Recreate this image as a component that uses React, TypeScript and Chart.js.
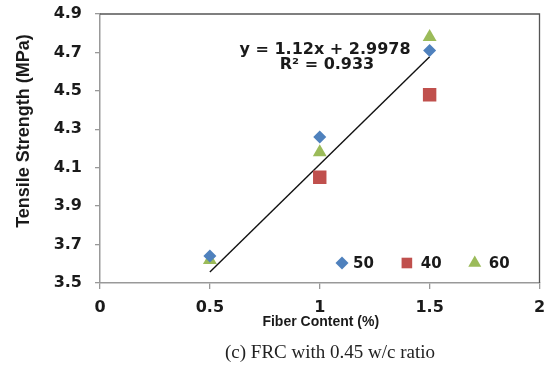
import React, { useEffect, useRef } from "react";
import { Chart, registerables } from "chart.js";
import { drawPoint } from "chart.js/helpers";

Chart.register(...registerables);

// ---- data ----
const seriesNames = ["50", "40", "60"];
const x50 = [0.5, 1.0, 1.5];
const y50 = [3.64, 4.26, 4.71];
const x40 = [1.0, 1.5];
const y40 = [4.05, 4.48];
const x60 = [0.5, 1.0, 1.5];
const y60 = [3.62, 4.18, 4.78];
const trendSlope = 1.12;
const trendIntercept = 2.9978;
const trendR2 = 0.933;
const trendRange = [0.5, 1.5];
const xTickValues = [0, 0.5, 1, 1.5, 2];
const yTickValues = [3.5, 3.7, 3.9, 4.1, 4.3, 4.5, 4.7, 4.9];
const xTitle = "Fiber Content (%)";
const yTitle = "Tensile Strength (MPa)";
const caption = "(c) FRC with 0.45 w/c ratio";

const BOLD = "'DejaVu Sans', sans-serif";
const ARIAL = "'Liberation Sans', Arial, sans-serif";
const TEXT = "#1a1a1a";

const pts = (xs: number[], ys: number[]) => xs.map((x, i) => ({ x, y: ys[i] }));

const overlay = {
  id: "overlay",
  beforeDatasetsDraw(chart: any) {
    const { ctx, chartArea: a } = chart;
    ctx.save();
    ctx.strokeStyle = "#555";
    ctx.lineWidth = 1.3;
    ctx.beginPath();
    ctx.moveTo(a.left, a.top);
    ctx.lineTo(a.right, a.top);
    ctx.lineTo(a.right, a.bottom);
    ctx.stroke();
    ctx.restore();
  },
  afterDraw(chart: any) {
    const { ctx, chartArea: a } = chart;
    ctx.save();
    ctx.fillStyle = TEXT;
    ctx.textAlign = "center";
    ctx.textBaseline = "middle";

    // trendline equation
    ctx.font = `bold 16px ${BOLD}`;
    const sign = trendIntercept >= 0 ? "+" : "-";
    ctx.fillText(`y = ${trendSlope}x ${sign} ${Math.abs(trendIntercept)}`, a.left + 225, a.top + 36);
    ctx.fillText(`R² = ${trendR2}`, a.left + 227, a.top + 51);

    // legend (inside plot area, bottom right)
    ctx.font = `bold 15px ${BOLD}`;
    ctx.textAlign = "left";
    let x = a.left + 235;
    const ly = a.bottom - 20;
    const ds = chart.data.datasets;
    const legendRadius = [6.5, 7.5, 7.5];
    const markerGap = [11, 14, 14];
    for (let i = 0; i < seriesNames.length; i++) {
      const d = ds[i];
      const mx = x + 7;
      ctx.fillStyle = d.backgroundColor;
      drawPoint(ctx, { pointStyle: d.pointStyle, radius: legendRadius[i], rotation: 0, borderWidth: 0 }, mx, ly);
      ctx.fillStyle = TEXT;
      const tx = mx + markerGap[i];
      ctx.fillText(seriesNames[i], tx, ly + 1);
      x = tx + ctx.measureText(seriesNames[i]).width + 26;
    }

    // axis titles
    ctx.textAlign = "center";
    ctx.font = `bold 14px ${ARIAL}`;
    ctx.fillText(xTitle, (a.left + a.right) / 2 + 1, a.bottom + 39);

    ctx.save();
    ctx.translate(24, a.top + 117);
    ctx.rotate(-Math.PI / 2);
    ctx.font = `bold 18px ${ARIAL}`;
    ctx.fillText(yTitle, 0, 0);
    ctx.restore();

    // caption
    ctx.fillStyle = "#222";
    ctx.font = "19px 'Liberation Serif', 'Times New Roman', serif";
    ctx.fillText(caption, a.left + 230, a.bottom + 70);
    ctx.restore();
  },
};

export default function App() {
  const ref = useRef<HTMLCanvasElement | null>(null);

  useEffect(() => {
    if (!ref.current) return;
    const chart = new Chart(ref.current, {
      type: "scatter",
      data: {
        datasets: [
          {
            label: seriesNames[0],
            data: pts(x50, y50),
            backgroundColor: "#4F81BD",
            borderColor: "#4F81BD",
            pointStyle: "rectRot",
            pointRadius: 6.5,
            borderWidth: 0,
          },
          {
            label: seriesNames[1],
            data: pts(x40, y40),
            backgroundColor: "#C0504D",
            borderColor: "#C0504D",
            pointStyle: "rect",
            pointRadius: 9.5,
            borderWidth: 0,
          },
          {
            label: seriesNames[2],
            data: pts(x60, y60),
            backgroundColor: "#9BBB59",
            borderColor: "#9BBB59",
            pointStyle: "triangle",
            pointRadius: 8,
            borderWidth: 0,
          },
          {
            type: "line",
            label: "Linear",
            data: trendRange.map((x) => ({ x, y: trendSlope * x + trendIntercept })),
            borderColor: "#111",
            borderWidth: 1.4,
            pointRadius: 0,
            fill: false,
          } as any,
        ],
      },
      options: {
        animation: false,
        responsive: true,
        maintainAspectRatio: false,
        layout: { padding: { left: 0, right: 7, top: 14, bottom: 0 } },
        plugins: {
          legend: { display: false },
          tooltip: { enabled: false },
          title: { display: false },
        },
        scales: {
          x: {
            type: "linear",
            min: 0,
            max: 2,
            afterBuildTicks: (s: any) => {
              s.ticks = xTickValues.map((v) => ({ value: v }));
            },
            ticks: {
              callback: (v: any) => String(v),
              font: { family: BOLD, weight: "bold", size: 16 },
              color: TEXT,
              padding: 9,
              maxRotation: 0,
              autoSkip: false,
            },
            grid: { drawOnChartArea: false, drawTicks: true, tickLength: 6, color: "#999", lineWidth: 1.3 },
            border: { display: true, color: "#999", width: 1.5 },
            afterFit: (s: any) => {
              s.height = 82;
              s.paddingLeft = 0;
              s.paddingRight = 0;
            },
          },
          y: {
            type: "linear",
            min: 3.5,
            max: 4.9,
            afterBuildTicks: (s: any) => {
              s.ticks = yTickValues.map((v) => ({ value: v }));
            },
            ticks: {
              callback: (v: any) => Number(v).toFixed(1),
              font: { family: BOLD, weight: "bold", size: 16 },
              color: TEXT,
              padding: 13,
              autoSkip: false,
            },
            grid: { drawOnChartArea: false, drawTicks: true, tickLength: 5, color: "#999", lineWidth: 1.3 },
            border: { display: true, color: "#999", width: 1.5 },
            afterFit: (s: any) => {
              s.width = 100;
              s.paddingTop = 0;
              s.paddingBottom = 0;
            },
          },
        },
      },
      plugins: [overlay],
    });
    return () => chart.destroy();
  }, []);

  return (
    <div style={{ position: "fixed", left: 0, top: 0, width: 549, height: 365, background: "#fff" }}>
      <canvas ref={ref} />
    </div>
  );
}
